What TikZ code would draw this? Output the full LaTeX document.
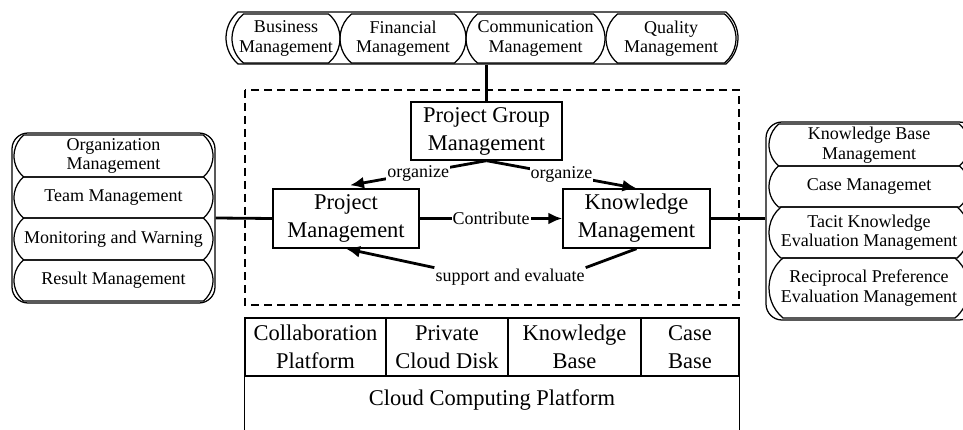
\documentclass[tikz,border=0pt]{standalone}
\usepackage{fontspec}
\setmainfont{Liberation Serif}
\usetikzlibrary{shapes.misc,arrows.meta,positioning}

\begin{document}
\begin{tikzpicture}[
  x=1pt,y=-1pt,
  font=\fontsize{18}{19.5}\selectfont,
  box/.style={rectangle,draw,line width=1.4pt,align=center,inner sep=0pt,
              font=\fontsize{22.5}{28}\selectfont},
  pill/.style={rounded rectangle,rounded rectangle arc length=100,draw,
               line width=1.25pt,inner sep=0pt},
  ptext/.style={align=center,inner sep=0pt,font=\fontsize{18}{19.5}\selectfont},
  group/.style={rectangle,rounded corners=16pt,draw,line width=1.25pt,inner sep=0pt},
  link/.style={line width=2.8pt},
  arr/.style={-{Latex[length=14pt,width=12pt]},line width=2.8pt},
  tag/.style={fill=white,inner sep=1pt}
]
\useasboundingbox (0,0) rectangle (963,430);
% top: management modules
\node[pill,minimum width=512,minimum height=52] (mgmt) at (482,38) {};
\foreach \n/\x/\w/\txt in {bus/286/108/{Business\\Management},
    fin/403/126/{Financial\\Management},
    com/535.5/139/{Communication\\Management},
    qual/671/130/{Quality\\Management}}{
  \node[pill,minimum width=\w,minimum height=49,label={[ptext]center:{\txt}}] (\n) at (\x,38.5) {};
}
% left: project side modules
\node[group,minimum width=203,minimum height=170] (lgrp) at (113.5,218) {};
\foreach \n/\y/\h/\txt in {org/156/42/{Organization\\Management},
    team/197.5/41/{Team Management},
    mon/239/42/{Monitoring and Warning},
    res/280.5/41/{Result Management}}{
  \node[pill,minimum width=199,minimum height=\h,label={[ptext]center:{\txt}}] (\n) at (113.5,\y) {};
}
% right: knowledge side modules
\node[group,minimum width=209,minimum height=198] (rgrp) at (870.5,221) {};
\foreach \n/\y/\h/\txt in {kbm/145/42/{Knowledge Base\\Management},
    casem/186.5/41/{Case Managemet},
    tacit/232.5/51/{Tacit Knowledge\\Evaluation Management},
    recip/288/60/{Reciprocal Preference\\Evaluation Management}}{
  \node[pill,minimum width=200,minimum height=\h,label={[ptext]center:{\txt}}] (\n) at (869,\y) {};
}
% core: dashed frame with the three managements
\draw[line width=1.25pt,dash pattern=on 8pt off 5pt] (245,90) rectangle (739,305);
\node[box,minimum width=151,minimum height=58] (pgm) at (486.5,131) {Project Group\\Management};
\node[box,minimum width=146,minimum height=59] (pm) at (346,218.5) {Project\\Management};
\node[box,minimum width=147,minimum height=59] (km) at (636.5,218.5) {Knowledge\\Management};
\draw[link] (pgm.north) -- (pgm.north |- mgmt.south);
\draw[link] (lgrp.east) -- (pm.west);
\draw[link] (km.east) -- (km.east -| rgrp.west);
\draw[arr] (pgm.south) -- node[tag] {organize} ([shift={(4,-3)}]pm.north);
\draw[arr] (pgm.south) -- node[tag] {organize} (km.north);
\draw[arr] (pm) -- node[tag] {Contribute} (km);
\node[tag] (sae) at (510,277) {support and evaluate};
\draw[link] (km.south) -- (sae.north east);
\draw[arr] (sae.north west) -- (pm.south);
% bottom: cloud platform
\node[box,minimum width=141,minimum height=58] (collab) at (315.5,347) {Collaboration\\Platform};
\node[box,minimum width=122,minimum height=58] (disk) at (447,347) {Private\\Cloud Disk};
\node[box,minimum width=133,minimum height=58] (kbase) at (574.5,347) {Knowledge\\Base};
\node[box,minimum width=98,minimum height=58] (cbase) at (690,347) {Case\\Base};
\node[font=\fontsize{22.5}{28}\selectfont] (cloud) at (492,400) {Cloud Computing Platform};
\draw[line width=1.4pt] (collab.south west) -- ++(0,60);
\draw[line width=1.4pt] (cbase.south east) -- ++(0,60);
\end{tikzpicture}
\end{document}
